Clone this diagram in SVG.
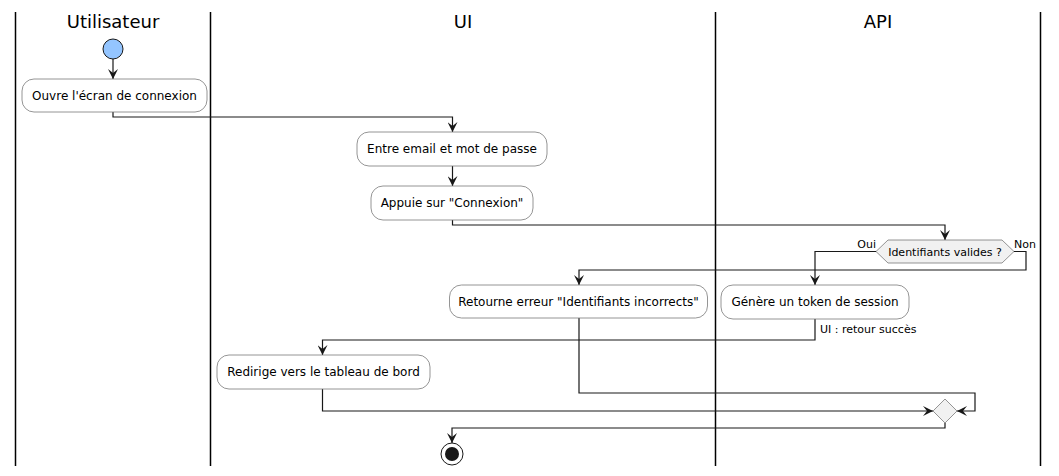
<svg xmlns="http://www.w3.org/2000/svg" width="1059" height="476" viewBox="0 0 1059 476">
<defs>
<style>
.lane{stroke:#000;stroke-width:1.5;fill:none}
.title{font-family:"DejaVu Sans",sans-serif;font-size:18px;fill:#000;text-anchor:middle}
.act{fill:#FFFFFF;stroke:#7a7a7a;stroke-width:0.8}
.t{font-family:"DejaVu Sans",sans-serif;font-size:12px;fill:#000;text-anchor:middle}
.s{font-family:"DejaVu Sans",sans-serif;font-size:11px;fill:#000}
.c{fill:none;stroke:#181818;stroke-width:1.2}
.dec{fill:#F1F1F1;stroke:#7a7a7a;stroke-width:0.8}
</style>
<marker id="ah" viewBox="0 0 10 10" refX="10" refY="5" markerWidth="10" markerHeight="10" markerUnits="userSpaceOnUse" orient="auto">
<path d="M0,0 L10,5 L0,10 L4,5 Z" fill="#181818"/>
</marker>
</defs>
<rect width="1059" height="476" fill="#FFFFFF"/>
<g id="lanes">
<line class="lane" x1="15.5" y1="12" x2="15.5" y2="466"/>
<line class="lane" x1="210.5" y1="12" x2="210.5" y2="466"/>
<line class="lane" x1="715.5" y1="12" x2="715.5" y2="466"/>
<line class="lane" x1="1040.5" y1="12" x2="1040.5" y2="466"/>
<text class="title" x="113" y="28">Utilisateur</text>
<text class="title" x="463" y="28">UI</text>
<text class="title" x="878" y="28">API</text>
</g>
<g id="connectors">
<path class="c" d="M113,59 V79" marker-end="url(#ah)"/>
<path class="c" d="M113,112 V117 H452.5 V132" marker-end="url(#ah)"/>
<path class="c" d="M452.5,166 V186" marker-end="url(#ah)"/>
<path class="c" d="M452.5,220 V225 H945 V240" marker-end="url(#ah)"/>
<path class="c" d="M876,251.5 H815 V285" marker-end="url(#ah)"/>
<path class="c" d="M1014,251.5 H1026 V270 H579 V285" marker-end="url(#ah)"/>
<path class="c" d="M815,319 V340 H322.5 V355" marker-end="url(#ah)"/>
<path class="c" d="M579,318 V393 H975 V411 H957" marker-end="url(#ah)"/>
<path class="c" d="M322.5,389 V411 H933" marker-end="url(#ah)"/>
<path class="c" d="M945,423 V428 H452 V443" marker-end="url(#ah)"/>
<text class="s" x="876" y="248" text-anchor="end">Oui</text>
<text class="s" x="1014" y="248">Non</text>
<text class="s" x="820" y="333">UI : retour succès</text>
</g>
<g id="start"><circle cx="113" cy="49" r="10" fill="#94C5FF" stroke="#181818" stroke-width="1"/></g>
<g id="n1"><rect class="act" x="22" y="79" width="185" height="33" rx="12"/><text class="t" x="114.5" y="100">Ouvre l'écran de connexion</text></g>
<g id="n2"><rect class="act" x="357" y="132" width="190" height="34" rx="12"/><text class="t" x="452" y="153">Entre email et mot de passe</text></g>
<g id="n3"><rect class="act" x="371" y="186" width="162" height="34" rx="12"/><text class="t" x="452" y="207">Appuie sur "Connexion"</text></g>
<g id="d1"><polygon class="dec" points="876,251.5 888,240 1002,240 1014,251.5 1002,263 888,263"/><text class="s" x="945" y="256" text-anchor="middle">Identifiants valides ?</text></g>
<g id="n4"><rect class="act" x="721" y="285" width="188" height="34" rx="12"/><text class="t" x="815" y="306">Génère un token de session</text></g>
<g id="n5"><rect class="act" x="449.5" y="285" width="258" height="33" rx="12"/><text class="t" x="578.5" y="306">Retourne erreur "Identifiants incorrects"</text></g>
<g id="n6"><rect class="act" x="217" y="355" width="213" height="34" rx="12"/><text class="t" x="323.5" y="376">Redirige vers le tableau de bord</text></g>
<g id="merge"><polygon class="dec" points="945,399 957,411 945,423 933,411"/></g>
<g id="end"><circle cx="452" cy="454" r="11" fill="none" stroke="#181818" stroke-width="1"/><circle cx="452" cy="454" r="7" fill="#181818"/></g>
</svg>
